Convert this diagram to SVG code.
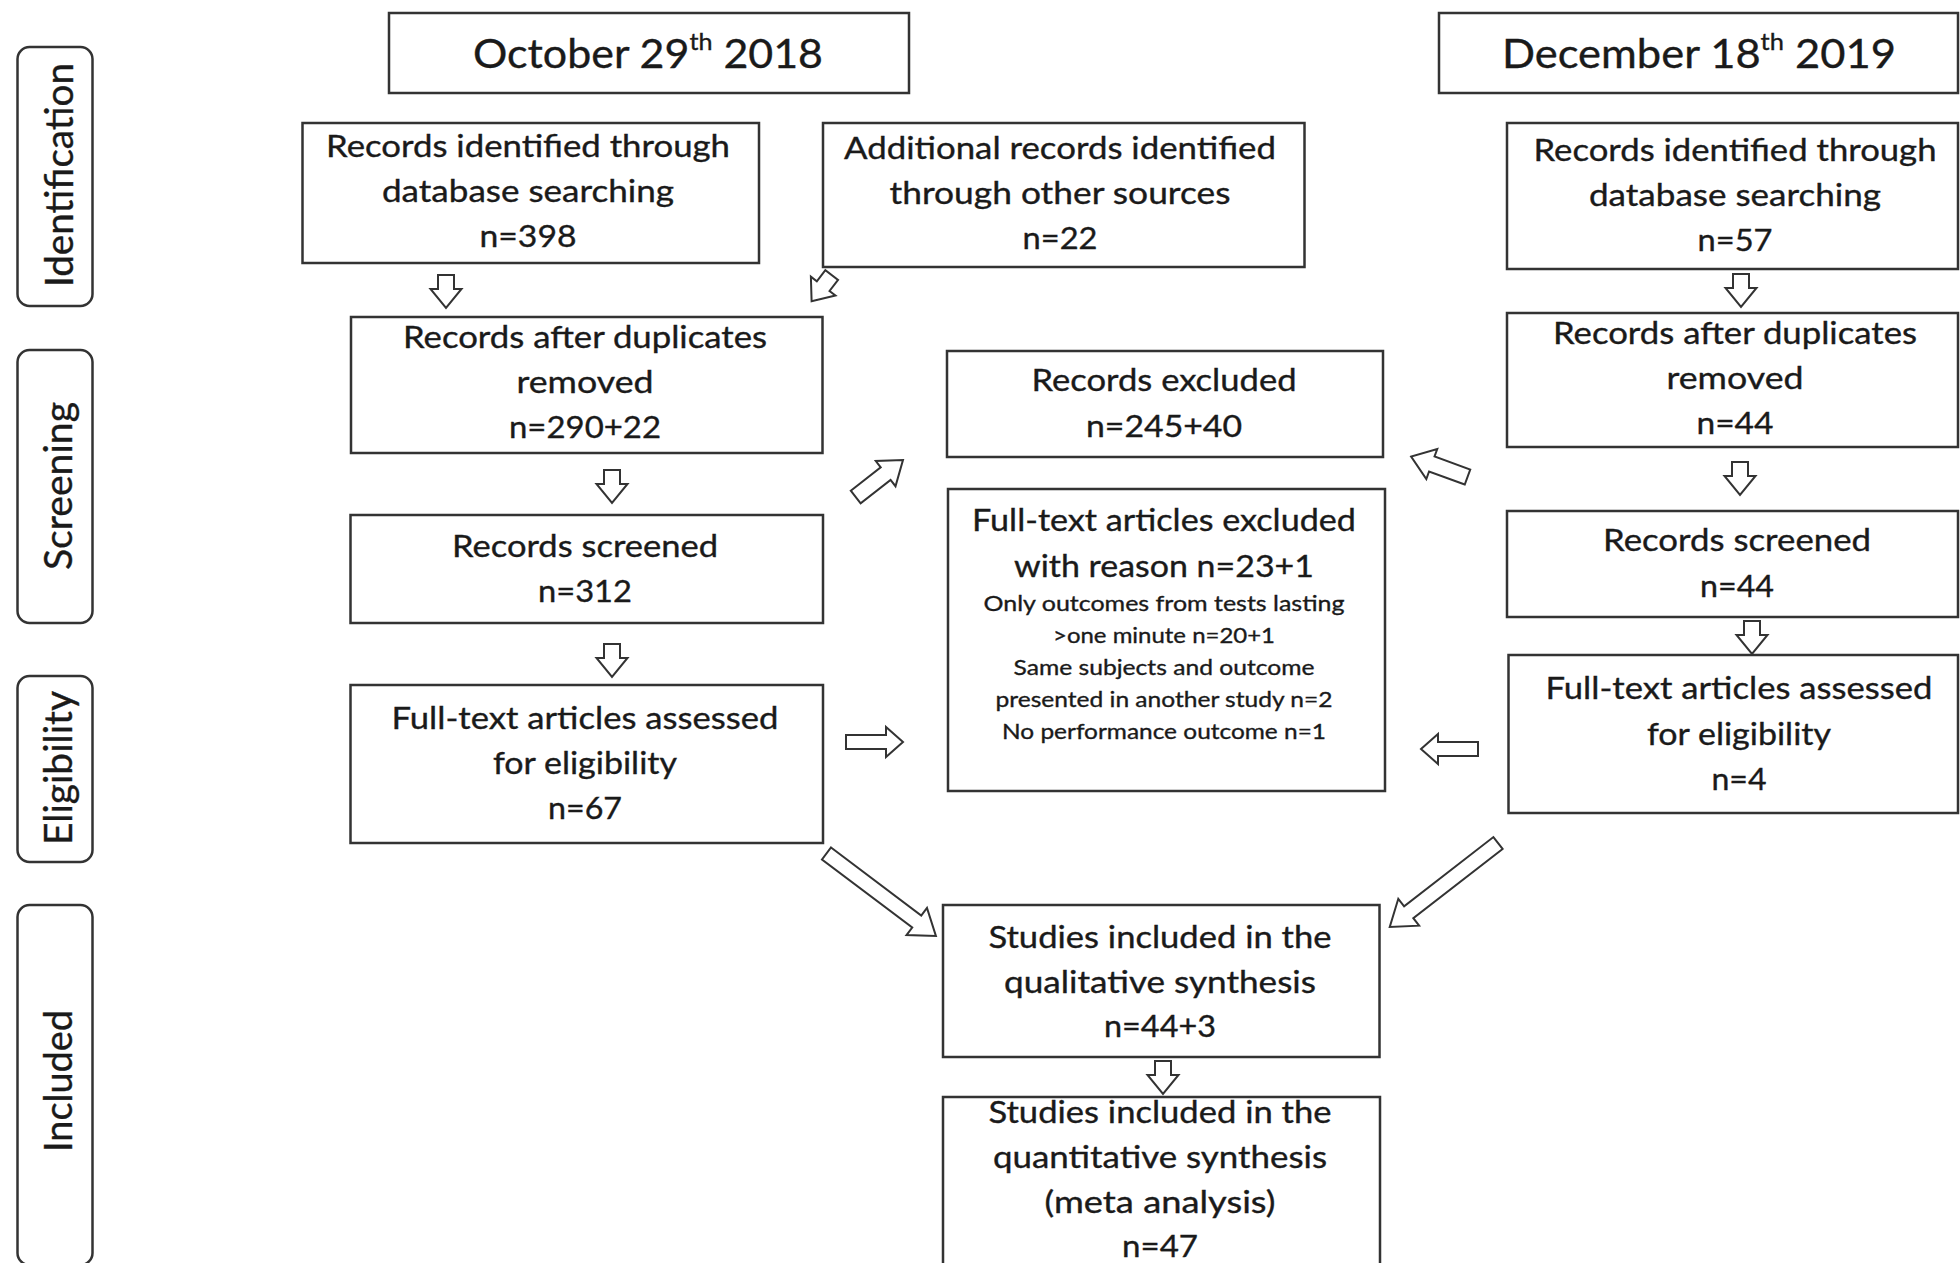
<svg xmlns="http://www.w3.org/2000/svg" xmlns:xlink="http://www.w3.org/1999/xlink" width="1960" height="1263" viewBox="0 0 1960 1263">
<style>
.box{fill:#fff;stroke:#333;stroke-width:2.5}
.lab{fill:#fff;stroke:#333;stroke-width:2.5}
.arr{fill:#fff;stroke:#333;stroke-width:2;stroke-linejoin:miter}
text{font-family:Lato,"Open Sans","Liberation Sans",sans-serif;fill:#1a1a1a;stroke:#1a1a1a;stroke-width:0.35;text-anchor:middle}
.t{font-size:30px}
.s{font-size:22px}
.h{font-size:41px}
.l{font-size:38px}
</style>
<defs>
<polygon id="arrS" class="arr" points="0,-8 14,-8 14,-15.5 33,0 14,15.5 14,8 0,8"/>
<polygon id="arrH" class="arr" points="0,-7 40,-7 40,-15 57,0 40,15 40,7 0,7"/>
<polygon id="arrD" class="arr" points="0,-8 38,-8 38,-16 60,0 38,16 38,8 0,8"/>
<polygon id="arrB" class="arr" points="0,-7.5 113,-7.5 113,-17 137,0 113,17 113,7.5 0,7.5"/>
</defs>
<rect width="1960" height="1263" fill="#fff"/>

<g id="stage-identification"><rect class="lab" x="17.5" y="47" width="75" height="259" rx="12"/><text class="l" transform="translate(73,175) rotate(-90)" textLength="224" lengthAdjust="spacingAndGlyphs">Identification</text></g>
<g id="stage-screening"><rect class="lab" x="17.5" y="350" width="75" height="273" rx="12"/><text class="l" transform="translate(72,486) rotate(-90)" textLength="168" lengthAdjust="spacingAndGlyphs">Screening</text></g>
<g id="stage-eligibility"><rect class="lab" x="17.5" y="676" width="75" height="186" rx="12"/><text class="l" transform="translate(72,768) rotate(-90)" textLength="154" lengthAdjust="spacingAndGlyphs">Eligibility</text></g>
<g id="stage-included"><rect class="lab" x="17.5" y="905" width="75" height="360" rx="12"/><text class="l" transform="translate(72,1081) rotate(-90)" textLength="142" lengthAdjust="spacingAndGlyphs">Included</text></g>

<g id="date-2018"><rect class="box" x="389" y="13" width="520" height="80"/><text class="h" x="648" y="68" textLength="350" lengthAdjust="spacingAndGlyphs">October 29<tspan font-size="24" dy="-18">th</tspan><tspan dy="18"> 2018</tspan></text></g>
<g id="date-2019"><rect class="box" x="1439" y="13" width="519" height="80"/><text class="h" x="1699" y="68" textLength="394" lengthAdjust="spacingAndGlyphs">December 18<tspan font-size="24" dy="-18">th</tspan><tspan dy="18"> 2019</tspan></text></g>

<g id="db-2018"><rect class="box" x="302.5" y="123" width="456.5" height="140"/>
<text class="t" x="528" y="157" textLength="404" lengthAdjust="spacingAndGlyphs">Records identified through</text>
<text class="t" x="528" y="202" textLength="292" lengthAdjust="spacingAndGlyphs">database searching</text>
<text class="t" x="528" y="247" textLength="97" lengthAdjust="spacingAndGlyphs">n=398</text></g>

<g id="other-2018"><rect class="box" x="823" y="123" width="481.5" height="144"/>
<text class="t" x="1060" y="159" textLength="432" lengthAdjust="spacingAndGlyphs">Additional records identified</text>
<text class="t" x="1060" y="204" textLength="341" lengthAdjust="spacingAndGlyphs">through other sources</text>
<text class="t" x="1060" y="249" textLength="75" lengthAdjust="spacingAndGlyphs">n=22</text></g>

<g id="db-2019"><rect class="box" x="1507" y="123" width="451" height="146"/>
<text class="t" x="1735" y="161" textLength="403" lengthAdjust="spacingAndGlyphs">Records identified through</text>
<text class="t" x="1735" y="206" textLength="292" lengthAdjust="spacingAndGlyphs">database searching</text>
<text class="t" x="1735" y="251" textLength="75" lengthAdjust="spacingAndGlyphs">n=57</text></g>

<g id="dedup-2018"><rect class="box" x="351" y="317" width="471.5" height="136"/>
<text class="t" x="585" y="348" textLength="364" lengthAdjust="spacingAndGlyphs">Records after duplicates</text>
<text class="t" x="585" y="393" textLength="137" lengthAdjust="spacingAndGlyphs">removed</text>
<text class="t" x="585" y="438" textLength="152" lengthAdjust="spacingAndGlyphs">n=290+22</text></g>

<g id="records-excluded"><rect class="box" x="947" y="351" width="436" height="106"/>
<text class="t" x="1164" y="391" textLength="265" lengthAdjust="spacingAndGlyphs">Records excluded</text>
<text class="t" x="1164" y="437" textLength="156" lengthAdjust="spacingAndGlyphs">n=245+40</text></g>

<g id="dedup-2019"><rect class="box" x="1507" y="313" width="451" height="134"/>
<text class="t" x="1735" y="344" textLength="364" lengthAdjust="spacingAndGlyphs">Records after duplicates</text>
<text class="t" x="1735" y="389" textLength="137" lengthAdjust="spacingAndGlyphs">removed</text>
<text class="t" x="1735" y="434" textLength="77" lengthAdjust="spacingAndGlyphs">n=44</text></g>

<g id="screened-2018"><rect class="box" x="350.5" y="515" width="472.5" height="108"/>
<text class="t" x="585" y="557" textLength="266" lengthAdjust="spacingAndGlyphs">Records screened</text>
<text class="t" x="585" y="602" textLength="94" lengthAdjust="spacingAndGlyphs">n=312</text></g>

<g id="fulltext-excluded"><rect class="box" x="948" y="489" width="437" height="302"/>
<text class="t" x="1164" y="531" textLength="384" lengthAdjust="spacingAndGlyphs">Full-text articles excluded</text>
<text class="t" x="1164" y="577" textLength="300" lengthAdjust="spacingAndGlyphs">with reason n=23+1</text>
<text class="s" x="1164" y="611" textLength="361" lengthAdjust="spacingAndGlyphs">Only outcomes from tests lasting</text>
<text class="s" x="1164" y="643" textLength="222" lengthAdjust="spacingAndGlyphs">&gt;one minute n=20+1</text>
<text class="s" x="1164" y="675" textLength="301" lengthAdjust="spacingAndGlyphs">Same subjects and outcome</text>
<text class="s" x="1164" y="707" textLength="337" lengthAdjust="spacingAndGlyphs">presented in another study n=2</text>
<text class="s" x="1164" y="739" textLength="324" lengthAdjust="spacingAndGlyphs">No performance outcome n=1</text></g>

<g id="assessed-2018"><rect class="box" x="350.5" y="685" width="472.5" height="158"/>
<text class="t" x="585" y="729" textLength="387" lengthAdjust="spacingAndGlyphs">Full-text articles assessed</text>
<text class="t" x="585" y="774" textLength="184" lengthAdjust="spacingAndGlyphs">for eligibility</text>
<text class="t" x="585" y="819" textLength="74" lengthAdjust="spacingAndGlyphs">n=67</text></g>

<g id="screened-2019"><rect class="box" x="1507" y="511" width="451" height="106"/>
<text class="t" x="1737" y="551" textLength="268" lengthAdjust="spacingAndGlyphs">Records screened</text>
<text class="t" x="1737" y="597" textLength="74" lengthAdjust="spacingAndGlyphs">n=44</text></g>

<g id="assessed-2019"><rect class="box" x="1508.5" y="655" width="449.5" height="158"/>
<text class="t" x="1739" y="699" textLength="387" lengthAdjust="spacingAndGlyphs">Full-text articles assessed</text>
<text class="t" x="1739" y="745" textLength="184" lengthAdjust="spacingAndGlyphs">for eligibility</text>
<text class="t" x="1739" y="790" textLength="55" lengthAdjust="spacingAndGlyphs">n=4</text></g>

<g id="qualitative"><rect class="box" x="943" y="905" width="436.5" height="152"/>
<text class="t" x="1160" y="948" textLength="343" lengthAdjust="spacingAndGlyphs">Studies included in the</text>
<text class="t" x="1160" y="993" textLength="312" lengthAdjust="spacingAndGlyphs">qualitative synthesis</text>
<text class="t" x="1160" y="1037" textLength="112" lengthAdjust="spacingAndGlyphs">n=44+3</text></g>

<g id="quantitative"><rect class="box" x="943" y="1097" width="437" height="180"/>
<text class="t" x="1160" y="1123" textLength="343" lengthAdjust="spacingAndGlyphs">Studies included in the</text>
<text class="t" x="1160" y="1168" textLength="334" lengthAdjust="spacingAndGlyphs">quantitative synthesis</text>
<text class="t" x="1160" y="1213" textLength="231" lengthAdjust="spacingAndGlyphs">(meta analysis)</text>
<text class="t" x="1160" y="1257" textLength="76" lengthAdjust="spacingAndGlyphs">n=47</text></g>

<g id="connectors">
<use href="#arrS" transform="translate(446,275) rotate(90)"/>
<use href="#arrS" transform="translate(831.7,275) rotate(127.5)"/>
<use href="#arrS" transform="translate(612,470) rotate(90)"/>
<use href="#arrS" transform="translate(612,644) rotate(90)"/>
<use href="#arrS" transform="translate(1741,274) rotate(90)"/>
<use href="#arrS" transform="translate(1740,462) rotate(90)"/>
<use href="#arrS" transform="translate(1752,621) rotate(90)"/>
<use href="#arrS" transform="translate(1163,1061) rotate(90)"/>
<use href="#arrH" transform="translate(846,742)"/>
<use href="#arrH" transform="translate(1478,749) rotate(180)"/>
<use href="#arrD" transform="translate(855.7,497) rotate(-38)"/>
<use href="#arrD" transform="translate(1467.5,477) rotate(200)"/>
<use href="#arrB" transform="translate(826.5,853.5) rotate(37)"/>
<use href="#arrB" transform="translate(1498,843) rotate(142.2)"/>
</g>
</svg>
